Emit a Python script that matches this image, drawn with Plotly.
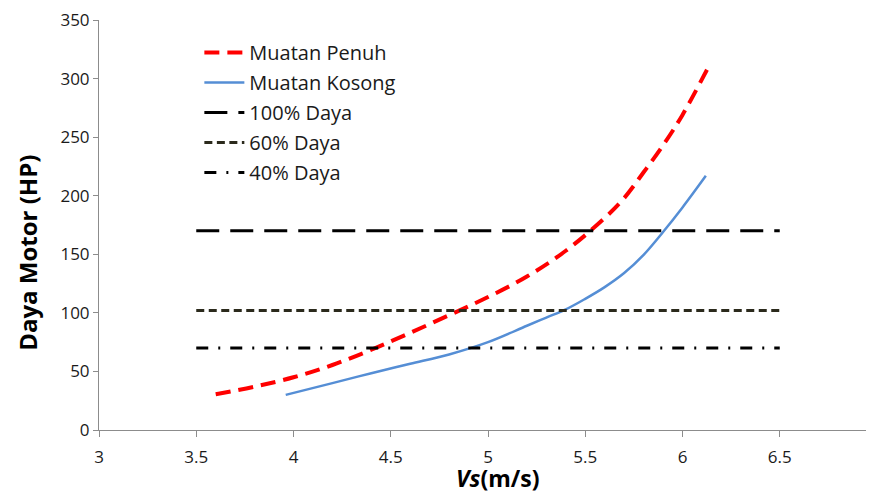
import plotly.graph_objects as go

# Data
vs_penuh = [3.6, 3.8, 4.0, 4.2, 4.4, 4.6, 4.8, 5.0, 5.2, 5.4, 5.6, 5.7, 5.8, 5.9, 6.0, 6.14]
daya_penuh = [30.5, 37, 45, 55.5, 68.5, 83, 98, 113.5, 131, 153, 181, 198, 220, 243, 269, 312]

vs_kosong = [3.96, 4.2, 4.4, 4.6, 4.8, 5.0, 5.2, 5.3, 5.4, 5.5, 5.6, 5.7, 5.8, 5.9, 6.0, 6.12]
daya_kosong = [30, 40, 48.5, 56.5, 64.5, 75, 89, 96, 103, 112, 122, 134, 149.5, 169, 190, 217]

vs_limit = [3.5, 6.5]
daya_100 = [170, 170]
daya_60 = [102, 102]
daya_40 = [70, 70]

x_ticks = [3, 3.5, 4, 4.5, 5, 5.5, 6, 6.5, 7]
y_ticks = [0, 50, 100, 150, 200, 250, 300, 350]

FONT = "Open Sans"

fig = go.Figure()
fig.add_trace(go.Scatter(x=vs_penuh, y=daya_penuh, mode="lines", name="Muatan Penuh",
                         line=dict(color="#ff0000", width=4, dash="15px,8px", shape="spline"),
                         legendgroup="a"))
fig.add_trace(go.Scatter(x=vs_kosong, y=daya_kosong, mode="lines", name="Muatan Kosong",
                         line=dict(color="#558ed5", width=2.5, shape="spline"),
                         legendgroup="b"))
fig.add_trace(go.Scatter(x=vs_limit, y=daya_100, mode="lines", name="100% Daya",
                         line=dict(color="#000000", width=3, dash="23px,11px"),
                         legendgroup="c"))
fig.add_trace(go.Scatter(x=vs_limit, y=daya_60, mode="lines", name="60% Daya",
                         line=dict(color="#2b2a1c", width=3, dash="8px,4.5px"),
                         legendgroup="d"))
fig.add_trace(go.Scatter(x=vs_limit, y=daya_40, mode="lines", name="40% Daya",
                         line=dict(color="#000000", width=3, dash="12px,10px,2px,10px"),
                         legendgroup="e"))

fig.update_layout(
    width=869, height=484,
    margin=dict(l=91, r=0, t=12, b=62),
    paper_bgcolor="white", plot_bgcolor="white",
    font=dict(family=FONT, size=17, color="#262626"),
    showlegend=True,
    legend=dict(x=0.129, y=0.968, xanchor="left", yanchor="top",
                bgcolor="rgba(0,0,0,0)", font=dict(size=20, family=FONT, color="#1a1a1a"),
                tracegroupgap=1, itemwidth=40),
    xaxis=dict(range=[3, 7], tickvals=x_ticks, ticktext=[str(v) for v in x_ticks],
               automargin=False, ticklabeloverflow="allow", ticklabelstandoff=6,
               showgrid=False, zeroline=False, showline=True, linecolor="#8c8c8c", linewidth=1,
               ticks="outside", ticklen=6, tickcolor="#8c8c8c",
               tickfont=dict(size=17, family=FONT, color="#1a1a1a")),
    yaxis=dict(range=[0, 350], tickvals=y_ticks,
               automargin=False, ticklabeloverflow="allow",
               showgrid=False, zeroline=False, showline=True, linecolor="#8c8c8c", linewidth=1,
               ticks="outside", ticklen=5, tickcolor="#8c8c8c",
               tickfont=dict(size=17, family=FONT, color="#1a1a1a")),
    annotations=[
        dict(text="<b><i>Vs</i>(m/s)</b>", xref="paper", yref="paper",
             x=0.513, y=-0.117, xanchor="center", yanchor="middle", showarrow=False,
             font=dict(size=23, family=FONT, color="#000")),
        dict(text="<b>Daya Motor (HP)</b>", xref="paper", yref="paper",
             x=-0.0913, y=0.432, xanchor="center", yanchor="middle", showarrow=False,
             textangle=-90, font=dict(size=24, family=FONT, color="#000")),
    ],
)

fig.write_html("out.html")
